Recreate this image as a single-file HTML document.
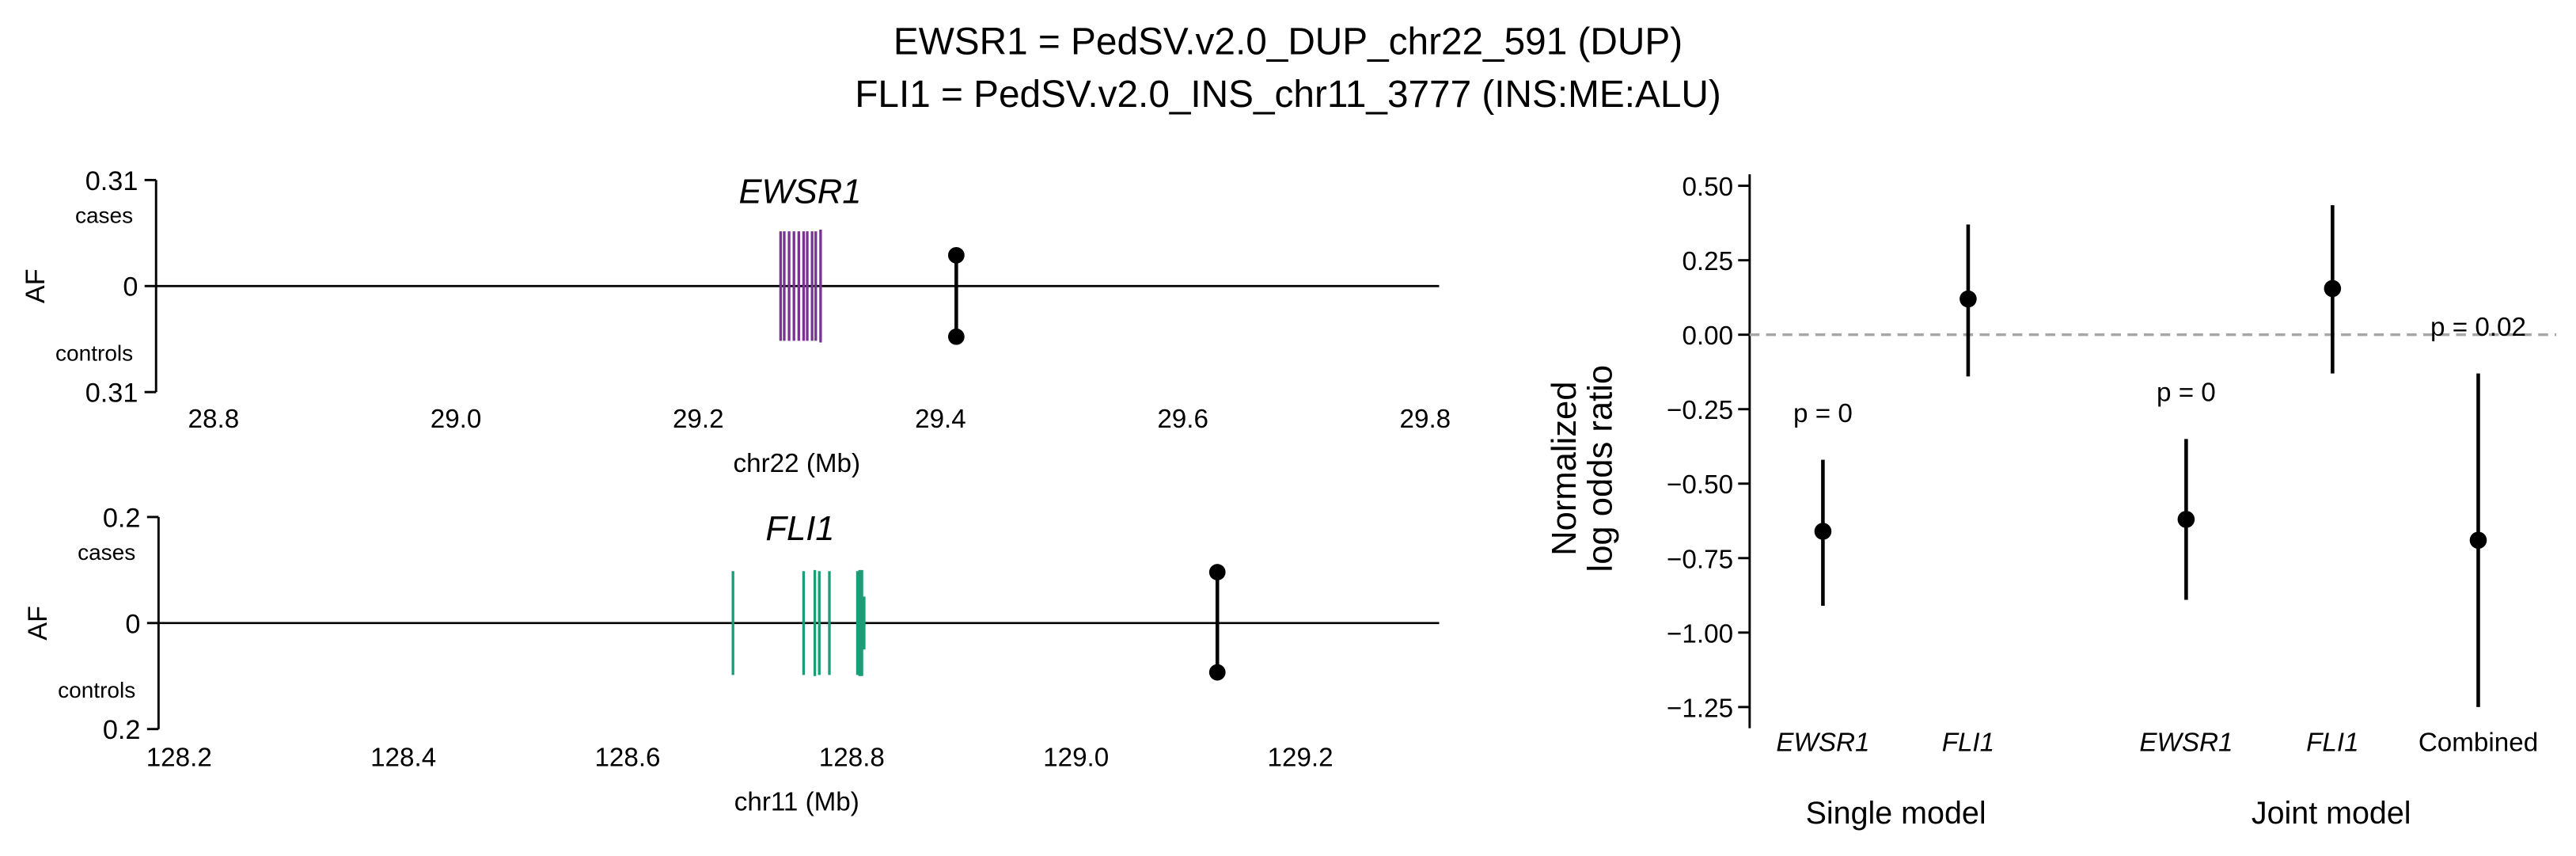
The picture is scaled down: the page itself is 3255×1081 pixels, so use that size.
<!DOCTYPE html>
<html><head><meta charset="utf-8"><style>
html,body{margin:0;padding:0;background:#fff}
svg{display:block}
text{font-family:"Liberation Sans",Arial,sans-serif;fill:#000}
</style></head><body>
<svg id="fig" width="3255" height="1081" viewBox="0 0 1568 520.7" xmlns="http://www.w3.org/2000/svg">
<rect width="1568" height="520.7" fill="#fff"/>
<text x="784" y="33" font-size="23" text-anchor="middle">EWSR1 = PedSV.v2.0_DUP_chr22_591 (DUP)</text>
<text x="784" y="65" font-size="23" text-anchor="middle">FLI1 = PedSV.v2.0_INS_chr11_3777 (INS:ME:ALU)</text>
<g id="p1"></g>
<g id="p2"></g>
<g id="p3"></g>
</svg>
<script>
// EWSR1 panel data
const ewsrExonPos = [29.268, 29.271, 29.275, 29.279, 29.283, 29.287, 29.290, 29.294, 29.297, 29.301];
const ewsrExonAF = [0.16, 0.16, 0.16, 0.16, 0.16, 0.16, 0.16, 0.16, 0.16, 0.165];
const ewsrSvPos = [29.413];
const ewsrCaseAF = [0.09];
const ewsrCtrlAF = [0.148];
const ewsrTicks = [28.8, 29.0, 29.2, 29.4, 29.6, 29.8];
// FLI1 panel data
const fliExonPos = [128.694, 128.757, 128.767, 128.771, 128.780, 128.805, 128.807, 128.809, 128.811];
const fliExonAF = [0.098, 0.098, 0.1, 0.098, 0.098, 0.098, 0.1, 0.1, 0.05];
const fliSvPos = [129.126];
const fliCaseAF = [0.096];
const fliCtrlAF = [0.093];
const fliTicks = [128.2, 128.4, 128.6, 128.8, 129.0, 129.2];
// Odds ratio data
const orCategories = ["EWSR1", "FLI1", "EWSR1", "FLI1", "Combined"];
const orEstimate = [-0.66, 0.12, -0.62, 0.155, -0.69];
const orLower = [-0.91, -0.14, -0.89, -0.13, -1.25];
const orUpper = [-0.42, 0.37, -0.35, 0.435, -0.13];
const orPLabels = ["p = 0", "", "p = 0", "", "p = 0.02"];
const orYTicks = [0.5, 0.25, 0, -0.25, -0.5, -0.75, -1.0, -1.25];

const NS = "http://www.w3.org/2000/svg";
function mk(parent, tag, attrs, txt) {
  const e = document.createElementNS(NS, tag);
  for (const k in attrs) e.setAttribute(k, attrs[k]);
  if (txt !== undefined) e.textContent = txt;
  parent.appendChild(e);
  return e;
}

function genePanel(g, o) {
  const xs = v => o.x0 + (v - o.t0) * o.pxPer;
  const ys = v => o.yz - v / o.afMax * o.half;
  let e;
  e = mk(g, "line", {x1: o.ax, x2: o.ax, y1: o.yz - o.half, y2: o.yz + o.half, stroke: "#000", "stroke-width": 1.4});
  
  
  [[o.yz - o.half, String(o.afMax)], [o.yz, "0"], [o.yz + o.half, String(o.afMax)]].forEach(([y, t]) => {
    mk(g, "line", {x1: o.ax - 7, x2: o.ax, y1: y, y2: y, stroke: "#000", "stroke-width": 1.4});
    e = mk(g, "text", {x: o.ax - 11, y: y + 6, "font-size": 16.5, "text-anchor": "end"}, t);
    
    
  });
  e = mk(g, "text", {x: o.ax - 14, y: o.yz - o.half + 26, "font-size": 13.5, "text-anchor": "end"}, "cases");
  
  
  e = mk(g, "text", {x: o.ax - 14, y: o.yz + o.half - 19, "font-size": 13.5, "text-anchor": "end"}, "controls");
  
  
  e = mk(g, "text", {x: 0, y: 0, "font-size": 16.5, "text-anchor": "middle", transform: `translate(${o.ax - 68},${o.yz}) rotate(-90)`}, "AF");
  
  
  e = mk(g, "line", {x1: o.ax, x2: 876, y1: o.yz, y2: o.yz, stroke: "#000", "stroke-width": 1.3});
  
  
  o.exPos.forEach((p, i) => {
    e = mk(g, "line", {x1: xs(p), x2: xs(p), y1: ys(o.exAF[i]), y2: ys(-o.exAF[i]), stroke: o.color, "stroke-width": 1.6});
    
    
  });
  o.svPos.forEach((p, i) => {
    const x = xs(p);
    e = mk(g, "line", {x1: x, x2: x, y1: ys(o.caseAF[i]), y2: ys(-o.ctrlAF[i]), stroke: "#000", "stroke-width": 2.2});
    
    
    e = mk(g, "circle", {cx: x, cy: ys(o.caseAF[i]), r: 5, fill: "#000"});
    
    
    e = mk(g, "circle", {cx: x, cy: ys(-o.ctrlAF[i]), r: 5, fill: "#000"});
    
    
  });
  o.ticks.forEach(t => {
    e = mk(g, "text", {x: xs(t), y: o.tickY, "font-size": 16, "text-anchor": "middle"}, t.toFixed(1));
    
    
  });
  e = mk(g, "text", {x: 485, y: o.tickY + 27, "font-size": 16, "text-anchor": "middle"}, o.xlabel);
  
  
  e = mk(g, "text", {x: 487, y: o.yz - o.half + 14, "font-size": 21, "font-style": "italic", "text-anchor": "middle"}, o.gene);
  
  
}

genePanel(document.getElementById("p1"), {ax: 95, yz: 174, half: 64.5, afMax: 0.31, x0: 130, t0: 28.8, pxPer: 737.5,
  exPos: ewsrExonPos, exAF: ewsrExonAF, svPos: ewsrSvPos, caseAF: ewsrCaseAF, ctrlAF: ewsrCtrlAF, ticks: ewsrTicks,
  color: "#7b3294", tickY: 260, xlabel: "chr22 (Mb)", gene: "EWSR1"});
genePanel(document.getElementById("p2"), {ax: 96.5, yz: 379, half: 64.5, afMax: 0.2, x0: 109, t0: 128.2, pxPer: 682.5,
  exPos: fliExonPos, exAF: fliExonAF, svPos: fliSvPos, caseAF: fliCaseAF, ctrlAF: fliCtrlAF, ticks: fliTicks,
  color: "#1a9e77", tickY: 466, xlabel: "chr11 (Mb)", gene: "FLI1"});

(function () {
  const g = document.getElementById("p3");
  const catX = [1109.6, 1198, 1330.7, 1419.8, 1508.5];
  const yv = v => 203.6 - v / 0.25 * 45.3;
  let e;
  e = mk(g, "line", {x1: 1065, x2: 1065, y1: 106, y2: 443, stroke: "#000", "stroke-width": 1.4});
  
  
  orYTicks.forEach(t => {
    mk(g, "line", {x1: 1058, x2: 1065, y1: yv(t), y2: yv(t), stroke: "#000", "stroke-width": 1.4});
    e = mk(g, "text", {x: 1055, y: yv(t) + 6, "font-size": 16, "text-anchor": "end"}, t.toFixed(2).replace("-", "\u2212"));
    
    
  });
  e = mk(g, "line", {x1: 1065, x2: 1556, y1: yv(0), y2: yv(0), stroke: "#a6a6a6", "stroke-width": 1.6, "stroke-dasharray": "6,4"});
  
  
  orCategories.forEach((c, i) => {
    const x = catX[i];
    e = mk(g, "line", {x1: x, x2: x, y1: yv(orLower[i]), y2: yv(orUpper[i]), stroke: "#000", "stroke-width": 2.2});
    
    
    e = mk(g, "circle", {cx: x, cy: yv(orEstimate[i]), r: 5.2, fill: "#000"});
    
    
    e = mk(g, "text", {x: x, y: 457, "font-size": 16, "text-anchor": "middle", "font-style": c === "Combined" ? "normal" : "italic"}, c);
    
    
    if (orPLabels[i]) {
      e = mk(g, "text", {x: x, y: yv(orUpper[i]) - 23, "font-size": 16, "text-anchor": "middle"}, orPLabels[i]);
      
      
    }
  });
  e = mk(g, "text", {x: 1154, y: 501, "font-size": 19, "text-anchor": "middle"}, "Single model");
  
  
  e = mk(g, "text", {x: 1419, y: 501, "font-size": 19, "text-anchor": "middle"}, "Joint model");
  
  
  e = mk(g, "text", {x: 0, y: 0, "font-size": 21, "text-anchor": "middle", transform: "translate(959,285) rotate(-90)"}, "Normalized");
  
  
  e = mk(g, "text", {x: 0, y: 0, "font-size": 21, "text-anchor": "middle", transform: "translate(981,285) rotate(-90)"}, "log odds ratio");
  
  
})();
</script>
</body></html>
